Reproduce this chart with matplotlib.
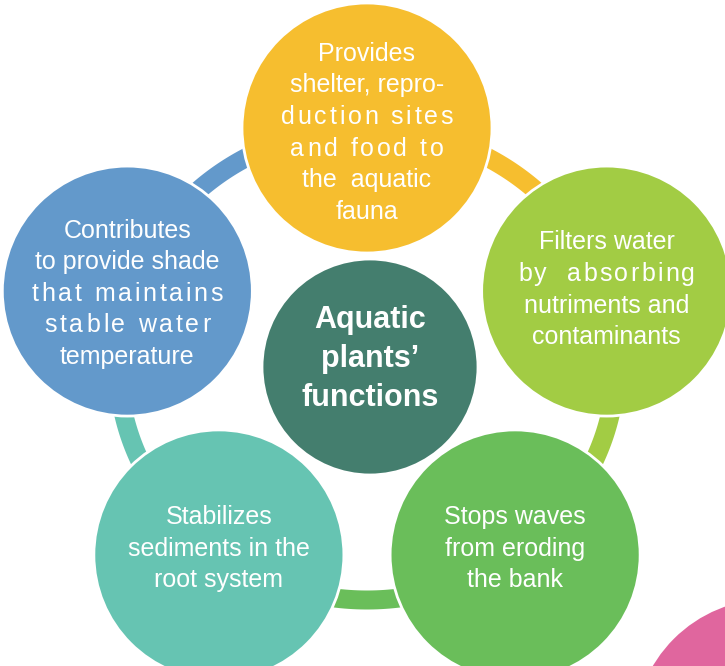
import numpy as np
import matplotlib
matplotlib.use("Agg")
import matplotlib.pyplot as plt
from matplotlib.patches import Circle, Polygon
from matplotlib.font_manager import FontProperties
from matplotlib.textpath import TextToPath

# diagram content, clockwise from the top
centre_label = ["Aquatic", "plants\u2019", "functions"]
node_labels = [
    ["Provides", "shelter, repro-", "duction sites", "and food to", "the  aquatic", "fauna"],
    ["Filters water", "by  absorbing", "nutriments and", "contaminants"],
    ["Stops waves", "from eroding", "the bank"],
    ["Stabilizes", "sediments in the", "root system"],
    ["Contributes", "to provide shade", "that maintains", "stable water", "temperature"],
]
node_colors = ["#F6BE2F", "#A2CC44", "#6ABE5A", "#66C4B2", "#6399CB"]
centre_color = "#447E6E"
accent_color = "#E0669E"

# lines that are stretched to a fixed width in the original (px)
justified = {"duction sites": 172, "and food to": 153, "that maintains": 191,
             "stable water": 166, "by  absorbing": 177}

W, H = 725, 666
DPI = 100
hub_x, hub_y = 367, 364
lay_rx, lay_ry = 252, 236        # node ellipse
ring_rx, ring_ry = 249, 236      # connector ring
ring_w = 19
node_r = 125
centre_r = 108
angles = [90, 18, -54, -126, -198]
text_dy = [3, -3, -8, -8, 1]     # text block offset inside each node

fig = plt.figure(figsize=(W / DPI, H / DPI), dpi=DPI)
ax = fig.add_axes([0, 0, 1, 1])
ax.set_xlim(0, W)
ax.set_ylim(H, 0)
ax.axis("off")

font = FontProperties(family="Liberation Sans", size=18)
bold = FontProperties(family="Liberation Sans", size=22, weight="bold")
t2p = TextToPath()


def text_width(s, prop):
    w, _, _ = t2p.get_text_width_height_descent(s, prop, ismath=False)
    return w * DPI / 72.0


def draw_line(x, y, s, prop, target=None):
    if target is None:
        ax.text(x, y, s, fontproperties=prop, color="white",
                ha="center", va="baseline")
        return
    widths = [text_width(c, prop) for c in s]
    gap = (target - sum(widths)) / (len(s) - 1)
    cx = x - target / 2
    for c, w in zip(s, widths):
        if c != " ":
            ax.text(cx, y, c, fontproperties=prop, color="white",
                    ha="left", va="baseline")
        cx += w + gap


def draw_block(x, y, lines, prop, spacing, cap):
    n = len(lines)
    for i, s in enumerate(lines):
        yc = y + (i - (n - 1) / 2) * spacing
        draw_line(x, yc + cap / 2, s, prop, justified.get(s))


# partly visible shape in the corner
ax.add_patch(Circle((770, 735), 136, facecolor=accent_color, edgecolor="none"))

# connector ring segments, each in the colour of the node it leaves
for i, a in enumerate(angles):
    t = np.radians(np.linspace(a, a - 72, 80))
    outer = np.column_stack([hub_x + (ring_rx + ring_w / 2) * np.cos(t),
                             hub_y - (ring_ry + ring_w / 2) * np.sin(t)])
    inner = np.column_stack([hub_x + (ring_rx - ring_w / 2) * np.cos(t),
                             hub_y - (ring_ry - ring_w / 2) * np.sin(t)])
    ax.add_patch(Polygon(np.vstack([outer, inner[::-1]]), closed=True,
                         facecolor=node_colors[i], edgecolor="none"))

for a, color, lines, dy in zip(angles, node_colors, node_labels, text_dy):
    nx = hub_x + lay_rx * np.cos(np.radians(a))
    ny = hub_y - lay_ry * np.sin(np.radians(a))
    ax.add_patch(Circle((nx, ny), node_r, facecolor=color,
                        edgecolor="white", linewidth=2))
    draw_block(nx, ny + dy, lines, font, 31.6, 17.5)

ax.add_patch(Circle((hub_x + 3, hub_y + 3), centre_r, facecolor=centre_color,
                    edgecolor="white", linewidth=2))
draw_block(hub_x + 3, hub_y - 8, centre_label, bold, 39, 22)

fig.savefig("out.png", dpi=DPI)
